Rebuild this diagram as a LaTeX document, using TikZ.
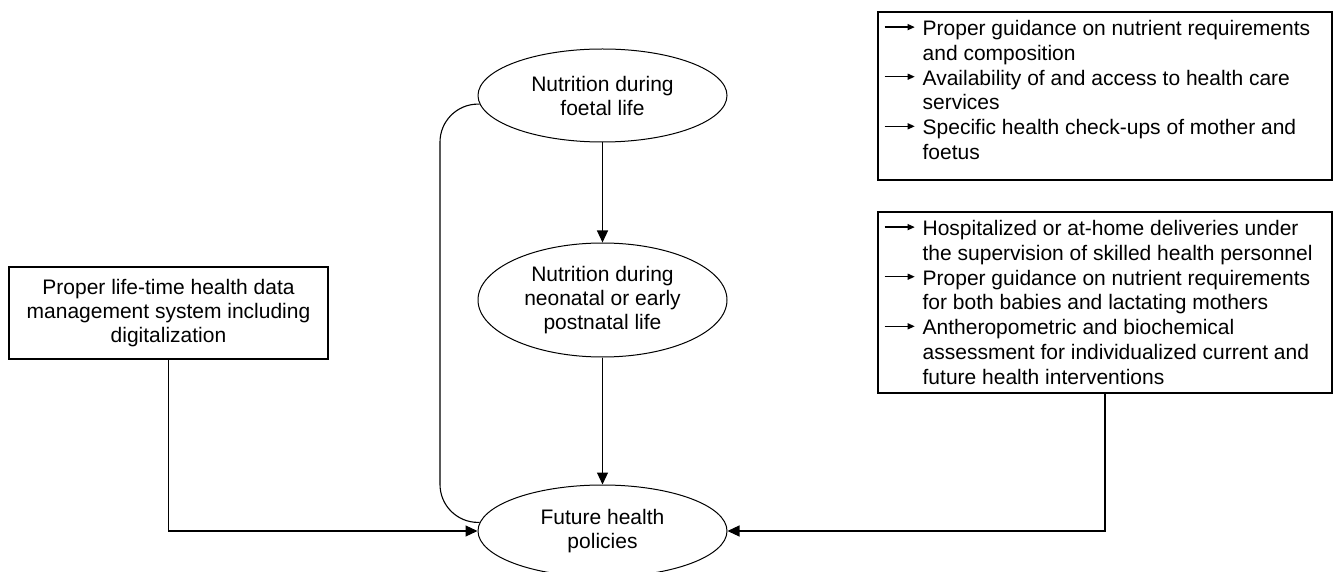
\documentclass[tikz,border=0pt]{standalone}
\usepackage{fontspec}
\setmainfont{Liberation Sans}
\usetikzlibrary{shapes.geometric,arrows.meta,calc}
\newcommand\barrow{\tikz[baseline=0pt]{\useasboundingbox (0pt,0pt) rectangle (30pt,10pt);\draw[line width=1.3pt] (0pt,8.4pt) -- (25pt,8.4pt);\fill (30pt,8.4pt) -- (23pt,11.6pt) -- (23pt,5.2pt) -- cycle;}}
\begin{document}
\begin{tikzpicture}[
  txt/.style={font=\fontsize{21pt}{24pt}\selectfont, align=center},
  oval/.style={ellipse, draw, line width=1pt, minimum width=249pt, inner sep=0pt, txt},
  plainbox/.style={rectangle, draw, line width=1.1pt, inner sep=0pt},
  conn/.style={line width=1.1pt},
  arr/.style={conn, -{Triangle[length=12pt,width=11pt]}},
  listtext/.style={anchor=north west, inner sep=0pt, font=\fontsize{21pt}{24.8pt}\selectfont}
]
\useasboundingbox (0pt,0pt) rectangle (1336pt,-572pt);
\clip (0pt,0pt) rectangle (1336pt,-572pt);
\node[oval, minimum height=93pt] (foetal) at (602.5pt,-95.5pt) {Nutrition during\\foetal life};
\node[oval, minimum height=114pt] (neo) at (602.5pt,-300pt) {Nutrition during\\neonatal or early\\postnatal life};
\node[oval, minimum height=92pt] (future) at (602.5pt,-531pt) {Future health\\policies};
\node[plainbox, txt, minimum width=319pt, minimum height=92pt] (data) at (168.5pt,-313pt) {Proper life-time health data\\management system including\\digitalization};
\node[plainbox, minimum width=454pt, minimum height=168pt] (boxA) at (1105pt,-96pt) {};
\node[plainbox, minimum width=454pt, minimum height=181pt] (boxB) at (1105pt,-302.5pt) {};
\node[listtext] (listA) at ($(boxA.north west)+(7pt,-6.5pt)$) {\begin{tabular}{@{}l@{\hspace{8pt}}l@{}}
\barrow & Proper guidance on nutrient requirements\\
 & and composition\\
\barrow & Availability of and access to health care\\
 & services\\
\barrow & Specific health check-ups of mother and\\
 & foetus
\end{tabular}};
\node[listtext] (listB) at ($(boxB.north west)+(7pt,-6.5pt)$) {\begin{tabular}{@{}l@{\hspace{8pt}}l@{}}
\barrow & Hospitalized or at-home deliveries under\\
 & the supervision of skilled health personnel\\
\barrow & Proper guidance on nutrient requirements\\
 & for both babies and lactating mothers\\
\barrow & Antheropometric and biochemical\\
 & assessment for individualized current and\\
 & future health interventions
\end{tabular}};
\coordinate (bend) at (440pt,0pt);
\draw[arr] (foetal) -- (neo);
\draw[arr] (neo) -- (future);
\draw[conn, rounded corners=38pt] (foetal.184) -| (bend |- future.176) -- (future.176);
\draw[arr] (data.south) |- (future.west);
\draw[arr] (boxB.south) |- (future.east);
\end{tikzpicture}
\end{document}
